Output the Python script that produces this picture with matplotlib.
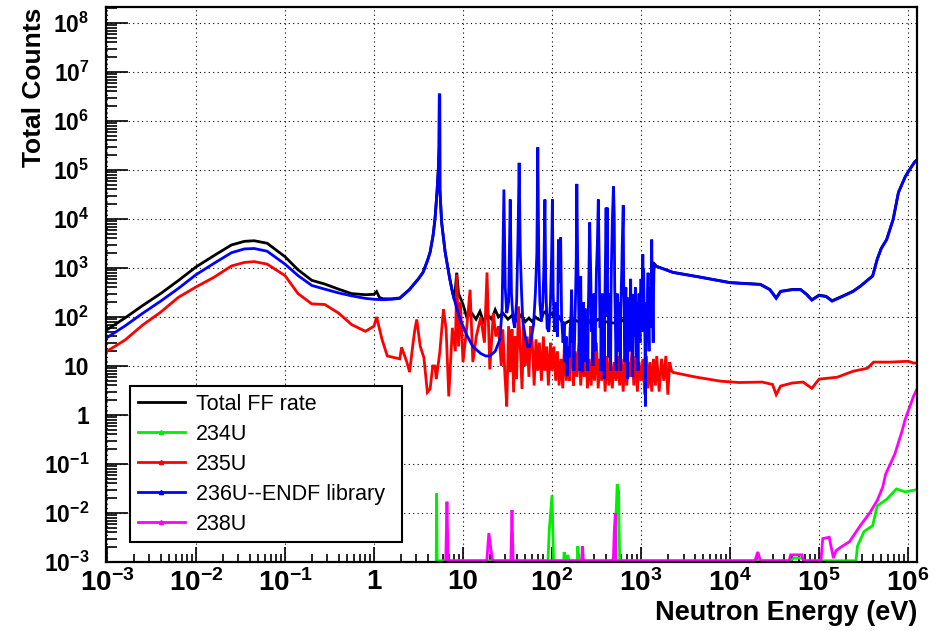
import numpy as np
import matplotlib
matplotlib.use("Agg")
import matplotlib.pyplot as plt
from matplotlib.lines import Line2D
from matplotlib.ticker import LogLocator, FuncFormatter, NullFormatter, FixedLocator

plt.rcParams['font.family'] = ['Liberation Sans', 'DejaVu Sans']
plt.rcParams['mathtext.fontset'] = 'custom'
plt.rcParams['mathtext.rm'] = 'Liberation Sans:bold'
plt.rcParams['mathtext.it'] = 'Liberation Sans:bold'
plt.rcParams['mathtext.bf'] = 'Liberation Sans:bold'

# ---- data (energy in eV, counts) ----
# thermal region, shared energy grid
e_thermal = [0.001, 0.0016, 0.0025, 0.004, 0.0063, 0.01, 0.016, 0.025, 0.035, 0.045,
             0.063, 0.1, 0.14, 0.2, 0.28, 0.4, 0.56, 0.8, 1.0]
total_thermal = [55, 96, 170, 300, 550, 1050, 1800, 2950, 3500, 3600,
                 3200, 1700, 920, 560, 470, 370, 300, 285, 290]
u236_thermal = [38, 66, 118, 210, 380, 730, 1250, 2050, 2450, 2500,
                2200, 1200, 700, 440, 370, 310, 270, 240, 230]
u235_thermal = [20, 34, 68, 125, 250, 410, 650, 1100, 1300, 1350,
                1200, 700, 300, 185, 180, 120, 70, 51, 65]

# total, above 1 eV
e_total = [1.07, 1.15, 1.26, 1.58, 1.95, 2.5, 3.16, 3.55, 3.98, 4.27, 4.6, 4.84, 5.1, 5.3,
           5.38, 5.42, 5.47, 5.5, 5.75, 6.3, 7.1, 7.6, 8.0, 8.5, 8.9,
           9.3, 10, 11, 12.5, 14, 15.5, 17, 19, 21, 23, 25, 28, 32, 36, 40, 45, 50, 55, 60,
           65, 70, 75, 80, 85, 90, 95, 100, 110, 120, 135, 150, 170, 200, 240, 280, 330,
           400, 500, 600, 700, 800, 900, 1000, 1100, 1200, 1300, 1420, 1500,
           2290, 4570, 1.0e4, 2.19e4, 2.8e4, 3.3e4, 3.7e4, 5.0e4, 6.2e4, 7.2e4, 8.3e4,
           1.0e5, 1.2e5, 1.4e5, 1.86e5, 2.4e5, 2.9e5, 3.5e5, 4.0e5, 4.5e5, 5.0e5, 5.75e5,
           6.8e5, 7.8e5, 9.3e5, 1.07e6, 1.2e6, 1.26e6]
total_vals = [330, 250, 235, 235, 245, 365, 605, 815, 1405, 2105, 4500, 9800, 3.5e4, 1.2e5,
              3.0e5, 3.4e6, 3.4e6, 4.0e4, 8500, 2100, 600, 330, 220, 800, 300,
              250, 180, 100, 120, 90, 130, 80, 110, 90, 140, 100, 120, 90, 110, 85, 110, 80, 95, 80,
              100, 90, 85, 120, 130, 100, 110, 120, 80, 100, 70, 80, 90, 80, 100, 70, 90,
              80, 75, 90, 70, 85, 80, 270, 100, 150, 400, 1200, 1080,
              815, 655, 505, 465, 365, 245, 335, 365, 365, 295, 225,
              280, 265, 215, 270, 335, 425, 565, 690, 1510, 2520, 3820,
              9850, 3.5e4, 7.3e4, 1.1e5, 1.5e5, 1.6e5]

# 236U, above 1 eV
e_u236 = [1.26, 1.58, 1.95, 2.5, 3.16, 3.55, 3.98, 4.27, 4.6, 4.84, 5.1, 5.3, 5.38, 5.42, 5.47,
          5.5, 5.75, 6.3, 7.1, 7.6, 8.5, 9.3, 11.2, 12.9, 15.8, 18, 20, 23, 26,
          27.5, 28.8, 29.8, 31, 32.5, 33.9, 35, 36.5, 38, 40, 41.5, 42.7, 44, 45.5, 47, 50,
          53, 56, 59, 62, 65, 67.5, 69.2, 71, 73, 76, 79, 81, 83.2, 85, 88, 92, 96, 99,
          101, 103, 107, 111, 115, 118, 122, 125, 128,
          133, 137, 140, 144, 148, 152, 156, 160, 163, 166, 170, 173, 176, 180, 184, 187,
          190, 194, 198, 202, 204, 206, 208, 210, 213, 215, 218, 220, 223, 226, 229, 232,
          235, 238, 242, 245, 248, 252, 256, 260, 265, 272, 276, 280, 284, 288, 292, 296,
          300, 305, 310, 315, 323, 331, 339, 343, 347, 351, 356, 360, 365, 370, 375, 380,
          385, 390, 395, 405, 411, 417, 421, 425, 430, 435, 440, 445, 450, 455, 460, 465,
          478, 490, 500, 506, 512, 518, 525, 532, 540, 547, 555, 562, 570, 577, 585, 592,
          600, 608, 615, 631, 638, 645, 652, 660, 667, 675, 682, 690, 699, 708, 716, 725,
          735, 745, 755, 765, 775, 785, 795, 805, 815, 825, 835, 845, 855, 865, 875, 885,
          895, 905, 915, 925, 937, 950, 962, 975, 987, 1000, 1010, 1020, 1035, 1047, 1058,
          1070, 1082, 1095, 1107, 1120, 1132, 1145, 1157, 1170, 1185, 1200, 1215, 1230,
          1245, 1260, 1275, 1290, 1305, 1318, 1330, 1345, 1357, 1370, 1385, 1400, 1450, 1500,
          2290, 4570, 1.0e4, 2.19e4, 2.8e4, 3.3e4, 3.7e4, 5.0e4, 6.2e4, 7.2e4, 8.3e4,
          1.0e5, 1.2e5, 1.4e5, 1.86e5, 2.4e5, 2.9e5, 3.5e5, 4.0e5, 4.5e5, 5.0e5, 5.75e5,
          6.8e5, 7.8e5, 9.3e5, 1.07e6, 1.2e6, 1.26e6]
u236_vals = [225, 230, 240, 360, 600, 810, 1400, 2100, 4500, 9800, 3.5e4, 1.2e5, 3.0e5, 3.4e6, 3.4e6,
             4.0e4, 8500, 2100, 600, 320, 150, 89, 40, 25, 18, 16, 16, 20, 35,
             150, 4.0e4, 400, 120, 200, 2.5e4, 300, 90, 60, 200, 4800, 1.4e5, 2000, 300, 80, 40,
             25, 25, 40, 70, 300, 2000, 2.9e5, 1500, 200, 80, 200, 1000, 2.5e4, 500, 60, 50, 200, 2000,
             2.5e4, 300, 50, 200, 40, 3800, 500, 4200, 100,
             30, 80, 12, 40, 6.2, 25, 15, 60, 100, 360, 30, 80, 8, 50, 300, 1500,
             5.2e4, 1500, 300, 30, 120, 8, 200, 680, 60, 100, 20, 7.5, 90, 200, 15, 30,
             150, 12, 60, 100, 20, 8, 150, 1000, 8500, 800, 120, 50, 200, 10, 80, 300,
             60, 20, 150, 800, 3000, 2.5e4, 1300, 200, 60, 250, 8, 100, 300, 40, 20, 200,
             5.4, 80, 500, 1.7e4, 800, 1.7e4, 400, 100, 300, 15, 120, 200, 30, 8, 250, 1200,
             1.2e4, 4.6e4, 1.2e4, 400, 150, 40, 8, 100, 300, 60, 20, 200, 165, 30, 8, 150,
             400, 1000, 3000, 1.9e4, 600, 200, 60, 12, 150, 400, 80, 30, 250, 5.4, 100, 150,
             20, 30, 200, 600, 60, 20, 150, 6, 80, 290, 100, 40, 200, 400, 50, 15,
             120, 200, 40, 8, 150, 300, 60, 30, 200, 600, 150, 50, 300, 1900, 300,
             930, 200, 100, 30, 1.5, 80, 200, 40, 30, 300, 800, 60, 20,
             150, 400, 100, 60, 500, 3800, 800, 300, 60, 30, 400, 1170, 1100, 1070,
             810, 650, 500, 460, 360, 240, 330, 360, 360, 290, 220,
             275, 260, 210, 265, 330, 420, 560, 680, 1500, 2500, 3800,
             9800, 3.5e4, 7.3e4, 1.1e5, 1.5e5, 1.6e5]

# 235U, above 1 eV
e_u235 = [1.07, 1.23, 1.41, 1.66, 1.95, 2.04, 2.34, 2.51, 2.75, 2.88, 3.02, 3.31, 3.63, 3.98,
          4.27, 4.57, 4.84, 5.01, 5.5, 6.03, 6.46, 6.92, 7.59, 8.2, 8.51, 8.91, 9.33, 10, 11,
          12, 12.9, 14.1, 15.8, 17.4, 18.6, 20, 21.9, 23.4, 25, 26.9, 28, 29.5, 31, 32.5, 34,
          35.5, 37, 38.5, 40, 42, 44, 46, 48, 50, 52.5, 55, 57.5, 60, 63, 66, 69, 72, 76,
          80, 83, 87, 91, 96, 100, 105, 110, 115, 120, 126, 132, 138, 145, 152, 158, 166,
          174, 182, 190, 200, 210, 220, 230, 240, 250, 262, 275, 288, 300, 315, 330, 345,
          360, 378, 395, 415, 435, 455, 475, 500, 525, 550, 575, 600, 630, 660, 690, 720,
          750, 790, 830, 870, 910, 950, 1000, 1050, 1100, 1150, 1200, 1260, 1320, 1380,
          1450, 1500, 1600, 1700, 1800, 1900, 2000, 2100, 2200, 2290,
          4000, 7800, 1.26e4, 2.3e4, 3.0e4, 3.3e4, 3.7e4, 5.0e4, 6.6e4, 8.3e4, 1.0e5,
          1.6e5, 2.4e5, 3.5e5, 4.1e5, 6.3e5, 1.0e6, 1.15e6, 1.26e6]
u235_vals = [100, 35, 16, 15, 14, 24, 12, 7.5, 30, 56, 89, 25, 15, 2.9,
             3.4, 10, 10, 5.4, 20, 145, 56, 2.4, 60, 20, 740, 25, 200, 12, 60,
             360, 12, 40, 100, 30, 810, 8.5, 120, 40, 65, 10, 56, 7, 1.5, 65, 7.5,
             56, 2.9, 40, 5.4, 165, 25, 3.4, 65, 10, 40, 6, 65, 30, 4, 35, 8, 30, 5,
             40, 8, 25, 4, 30, 8, 25, 5, 20, 4, 14, 3.5, 30, 5, 19, 5, 100,
             4, 20, 6, 30, 4, 16, 6, 25, 3.5, 14, 4, 20, 5, 30, 3.5, 14,
             5, 19, 3, 16, 4, 14, 3.5, 12, 5, 16, 4, 14, 3, 16, 4, 12,
             6, 20, 4, 16, 3, 12, 5, 14, 2.6, 16, 3.5, 12, 3, 14,
             4, 16, 3, 14, 5, 16, 2.6, 12, 8, 7.4,
             6, 4.9, 4.6, 4.7, 4.2, 2.6, 3.9, 4.5, 4.7, 3.5, 5.4,
             5.9, 7.8, 9, 12, 12, 12.5, 11.5, 11.5]

# 234U (0 = empty bin)
e_u234 = [5.0, 5.05, 5.12, 90, 93, 100, 104, 135, 137, 140, 148, 150, 155, 192, 195, 200,
          515, 525, 540, 560, 575, 2.0e4, 4.8e4, 5.2e4, 6.4e4, 6.8e4, 2.6e5, 2.7e5, 3.2e5,
          4.0e5, 4.5e5, 5.75e5, 7.4e5, 9.3e5, 1.26e6]
u234_vals = [0, 0.025, 0, 0, 0.0043, 0.023, 0, 0, 0.0016, 0, 0, 0.0014, 0, 0, 0.0021, 0,
             0, 0.010, 0.039, 0.028, 0, 0, 0, 0.0012, 0.0012, 0, 0, 0.0021, 0.0042,
             0.0055, 0.014, 0.019, 0.031, 0.027, 0.030]

# 238U (0 = empty bin)
e_u238 = [6.4, 6.6, 6.8, 18.5, 19.5, 20.5, 21.5, 34.5, 35.5, 36.5, 215, 220, 225, 480, 490,
          500, 515, 520, 560, 1.9e4, 2.05e4, 2.2e4, 4.6e4, 4.8e4, 6.4e4, 6.7e4, 1.05e5,
          1.1e5, 1.3e5, 1.45e5, 1.55e5, 1.75e5, 2.2e5, 2.9e5, 3.7e5, 4.5e5, 5.2e5, 5.6e5,
          7.1e5, 8.5e5, 9.3e5, 1.15e6, 1.26e6]
u238_vals = [0, 0.017, 0, 0, 0.0039, 0.0019, 0, 0, 0.0115, 0, 0, 0.0021, 0, 0, 0.0013,
             0.0042, 0.010, 0, 0, 0, 0.0016, 0, 0, 0.0014, 0.0014, 0, 0,
             0.0030, 0.0032, 0.0012, 0.0017, 0.0020, 0.0026, 0.0055, 0.010, 0.018, 0.034, 0.062,
             0.16, 0.45, 0.82, 2.4, 3.4]

labels = ['Total FF rate', '234U', '235U', '236U--ENDF library', '238U']
colors = ['black', '#00ee00', 'red', 'blue', 'magenta']

# ---- figure ----
fig = plt.figure(figsize=(9.39, 6.31), dpi=100)
ax = fig.add_axes([106 / 939, 1 - 562 / 631, 811 / 939, 555 / 631])

ymin, ymax = 1e-3, 2.12e8
floor = 1.06e-3  # empty bins drawn on the x axis, like ROOT


def draw(e, v, c, z):
    v = np.array(v, dtype=float)
    v[v <= 0] = floor
    ax.plot(e, v, color=c, lw=2.0, zorder=z, solid_joinstyle='miter')


draw(e_thermal + e_total, total_thermal + total_vals, colors[0], 2)
draw(e_u234, u234_vals, colors[1], 3)
draw(e_thermal + e_u235, u235_thermal + u235_vals, colors[2], 4)
draw(e_thermal + e_u236, u236_thermal + u236_vals, colors[3], 5)
draw(e_u238, u238_vals, colors[4], 6)

ax.set_xscale('log')
ax.set_yscale('log')
ax.set_xlim(0.975e-3, 1.26e6)
ax.set_ylim(ymin, ymax)


def pow_fmt(v, pos):
    n = int(round(np.log10(v)))
    if n == 0:
        return '1'
    if n == 1:
        return '10'
    return r'$10^{%d}$' % n


ax.xaxis.set_major_locator(FixedLocator([10.0 ** k for k in range(-3, 7)]))
ax.yaxis.set_major_locator(FixedLocator([10.0 ** k for k in range(-3, 9)]))
for axis in (ax.xaxis, ax.yaxis):
    axis.set_minor_locator(LogLocator(base=10, subs=np.arange(2, 10), numticks=200))
    axis.set_major_formatter(FuncFormatter(pow_fmt))
    axis.set_minor_formatter(NullFormatter())

ax.tick_params(which='both', direction='in', top=False, right=False, width=1.2)
ax.tick_params(axis='x', which='major', length=11, pad=5, labelsize=20)
ax.tick_params(axis='x', which='minor', length=5.5)
ax.tick_params(axis='y', which='major', length=16, pad=12, labelsize=16.5)
ax.tick_params(axis='y', which='minor', length=8)
for lab in ax.get_xticklabels() + ax.get_yticklabels():
    lab.set_fontweight('bold')

ax.grid(True, which='major', color='black', lw=0.8, linestyle=(0, (1, 3)))
for s in ax.spines.values():
    s.set_linewidth(1.6)
    s.set_zorder(10)

fig.text(34 / 939, 1 - 8 / 631, 'Total Counts', rotation=90, ha='center', va='top',
         fontsize=19, fontweight='bold')
fig.text(917 / 939, 1 - 613 / 631, 'Neutron Energy (eV)', ha='right', va='center',
         fontsize=19.5, fontweight='bold')

handles = [Line2D([], [], color=colors[0], lw=2)]
for c in colors[1:]:
    handles.append(Line2D([], [], color=c, lw=2, marker='^', markersize=3))
top = 1 - 386 / 631
leg = ax.legend(handles, labels, loc='upper left',
                bbox_to_anchor=(130 / 939, top - 0.1, 272 / 939, 0.1),
                bbox_transform=fig.transFigure, mode='expand', borderaxespad=0,
                fontsize=15.5, fancybox=False, framealpha=1, edgecolor='black',
                handlelength=2.2, handletextpad=0.5, labelspacing=0.42, borderpad=0.35,
                numpoints=1)
leg.get_frame().set_linewidth(1.5)
leg.set_zorder(20)

fig.savefig('out.png', dpi=100)
